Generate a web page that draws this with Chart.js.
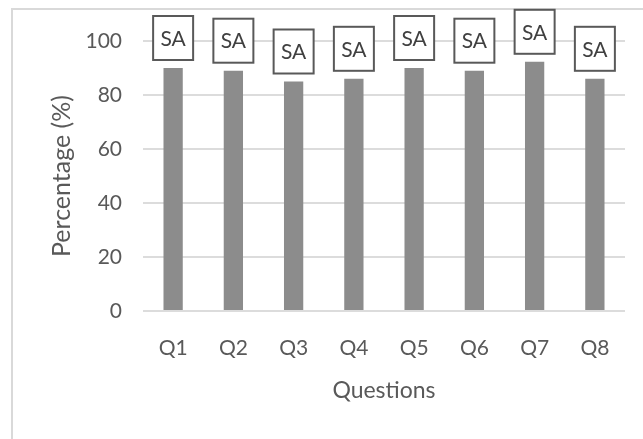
<!DOCTYPE html>
<html>
<head>
<meta charset="utf-8">
<script src="https://cdn.jsdelivr.net/npm/chart.js@4"></script>
<style>
  body { margin: 0; background: #fff; }
</style>
</head>
<body>
<canvas id="myChart" width="643" height="439"></canvas>
<script>
const questions = ['Q1', 'Q2', 'Q3', 'Q4', 'Q5', 'Q6', 'Q7', 'Q8'];
const percentages = [90, 89, 85, 86, 90, 89, 92.3, 86];
const barTags = ['SA', 'SA', 'SA', 'SA', 'SA', 'SA', 'SA', 'SA'];

// light frame around the whole chart
const frame = {
    id: 'frame',
    beforeDraw(chart) {
        const ctx = chart.ctx;
        ctx.save();
        ctx.strokeStyle = '#d9d9d9';
        ctx.lineWidth = 2;
        ctx.strokeRect(12, 9, 700, 500);
        ctx.restore();
    }
};

// boxed tag above each bar
const tags = {
    id: 'tags',
    afterDatasetsDraw(chart) {
        const ctx = chart.ctx;
        const bars = chart.getDatasetMeta(0).data;
        ctx.save();
        bars.forEach(function (bar, i) {
            const w = 40, h = 44;
            const x = bar.x - w / 2;
            const y = bar.y - 8 - h;
            ctx.fillStyle = '#fff';
            ctx.fillRect(x, y, w, h);
            ctx.strokeStyle = '#595959';
            ctx.lineWidth = 2;
            ctx.strokeRect(x, y, w, h);
            ctx.fillStyle = '#404040';
            ctx.font = '21px Lato';
            ctx.textAlign = 'center';
            ctx.textBaseline = 'middle';
            ctx.fillText(barTags[i], bar.x, y + h / 2 + 1);
        });
        ctx.restore();
    }
};

var ctx = document.getElementById('myChart').getContext('2d');
var chart = new Chart(ctx, {
    type: 'bar',
    data: {
        labels: questions,
        datasets: [{
            data: percentages,
            backgroundColor: '#8c8c8c',
            barPercentage: 0.32,
            categoryPercentage: 1
        }]
    },
    options: {
        responsive: false,
        animation: false,
        layout: { padding: { top: 41, right: 18, left: 0, bottom: 0 } },
        plugins: { legend: { display: false }, tooltip: { enabled: false } },
        scales: {
            x: {
                grid: { display: false },
                border: { display: false },
                ticks: { color: '#595959', font: { family: 'Lato', size: 21 }, padding: 17 },
                title: {
                    display: true,
                    text: 'Questions',
                    color: '#595959',
                    font: { family: 'Lato', size: 23 },
                    padding: { bottom: 35 }
                },
                afterFit(scale) { scale.height = 128; }
            },
            y: {
                min: 0,
                max: 100,
                grid: { color: '#dcdcdc', lineWidth: 2, drawTicks: false },
                border: { display: false },
                ticks: { stepSize: 20, color: '#595959', font: { family: 'Lato', size: 21 }, padding: 21 },
                title: {
                    display: true,
                    text: 'Percentage (%)',
                    color: '#595959',
                    font: { family: 'Lato', size: 25 },
                    padding: { top: 47 }
                },
                afterFit(scale) { scale.width = 143; }
            }
        }
    },
    plugins: [frame, tags]
});
</script>
</body>
</html>
